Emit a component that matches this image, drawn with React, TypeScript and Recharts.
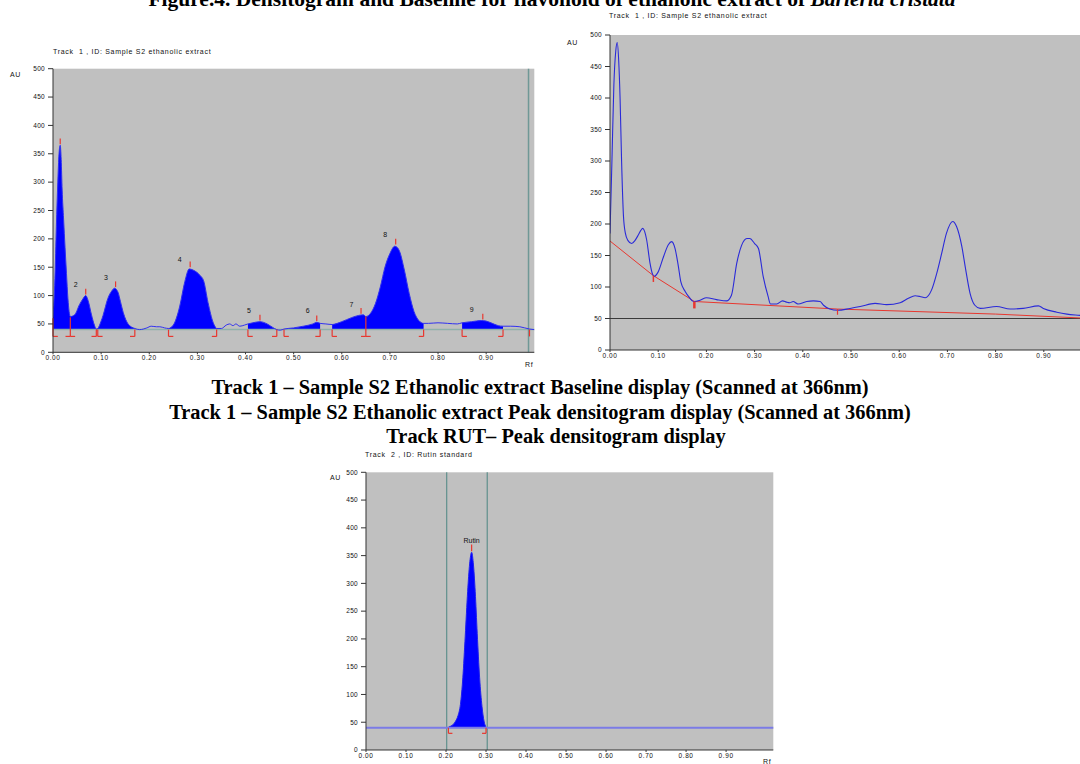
import React from "react";
import { ComposedChart, Line, Area, XAxis, YAxis, CartesianGrid, ReferenceLine, ReferenceDot } from "recharts";

// Track 1 - peak densitogram (left)
const rf1 = [0, 0.004, 0.007, 0.01, 0.0125, 0.015, 0.017, 0.019, 0.022, 0.025, 0.028, 0.031, 0.036, 0.045, 0.055, 0.062, 0.068, 0.073, 0.08, 0.086, 0.09, 0.093, 0.1, 0.104, 0.114, 0.122, 0.128, 0.135, 0.14, 0.146, 0.156, 0.17, 0.18, 0.195, 0.204, 0.215, 0.222, 0.232, 0.24, 0.25, 0.263, 0.274, 0.283, 0.291, 0.305, 0.313, 0.322, 0.333, 0.34, 0.35, 0.36, 0.367, 0.374, 0.38, 0.388, 0.398, 0.405, 0.415, 0.43, 0.445, 0.46, 0.465, 0.472, 0.48, 0.5, 0.52, 0.54, 0.548, 0.555, 0.567, 0.58, 0.6, 0.62, 0.635, 0.645, 0.65, 0.66, 0.67, 0.68, 0.69, 0.7, 0.71, 0.715, 0.72, 0.73, 0.74, 0.75, 0.76, 0.77, 0.78, 0.8, 0.82, 0.84, 0.85, 0.87, 0.89, 0.9, 0.91, 0.925, 0.935, 0.95, 0.97, 0.99, 1.0];
const au1 = [62, 130, 222, 300, 350, 365, 340, 286, 235, 185, 139, 95, 63, 66, 84, 94, 100, 91, 66, 48, 41, 42, 55, 65, 95, 108, 113, 106, 90, 70, 50, 42, 40, 43, 46, 45, 45, 43, 42, 48, 80, 125, 147, 145, 136, 126, 88, 52, 42, 42, 48, 50, 47, 50, 46, 48, 50, 52, 54, 50, 42, 40, 39, 41, 43, 46, 50, 53, 51, 50, 49, 54, 61, 65, 66, 63, 69, 86, 115, 151, 174, 187, 185, 178, 145, 104, 72, 56, 51, 51, 52, 51, 50, 52, 54, 56, 55, 52, 47, 46, 46, 45, 41, 40];
const peakStart1 = [0, 0.036, 0.093, 0.24, 0.405, 0.48, 0.58, 0.65, 0.85];
const peakEnd1 = [0.036, 0.09, 0.17, 0.34, 0.465, 0.555, 0.65, 0.77, 0.935];
const topRf1 = [0.015, 0.068, 0.13, 0.285, 0.43, 0.548, 0.64, 0.712, 0.893];
const topAu1 = [365, 100, 113, 148, 54, 53, 66, 188, 56];
const lblRf1 = [0.047, 0.11, 0.263, 0.407, 0.529, 0.62, 0.69, 0.87];
const lblAu1 = [119, 131, 164, 73, 73, 85, 207, 76];
const lblText1 = ["2", "3", "4", "5", "6", "7", "8", "9"];
const bndRf1 = [0, 0.036, 0.09, 0.093, 0.17, 0.24, 0.34, 0.405, 0.465, 0.48, 0.555, 0.58, 0.65, 0.77, 0.85, 0.935, 0.99];
const bndSide1 = ["[", "][", "]", "[", "]", "[", "]", "[", "]", "[", "]", "[", "][", "]", "[", "]", "|"];
const bndTop1 = [60, 62, 40, 40, 40, 40, 40, 40, 40, 40, 40, 40, 63, 40, 40, 40, 40];

// Track 1 - baseline display (right)
const rf2 = [0, 0.004, 0.008, 0.012, 0.015, 0.018, 0.021, 0.024, 0.028, 0.032, 0.037, 0.045, 0.052, 0.059, 0.064, 0.068, 0.072, 0.076, 0.083, 0.088, 0.092, 0.1, 0.111, 0.121, 0.128, 0.135, 0.142, 0.147, 0.156, 0.165, 0.173, 0.187, 0.2, 0.221, 0.242, 0.252, 0.263, 0.273, 0.284, 0.29, 0.3, 0.308, 0.318, 0.328, 0.333, 0.346, 0.358, 0.366, 0.373, 0.38, 0.39, 0.408, 0.422, 0.436, 0.443, 0.456, 0.472, 0.498, 0.519, 0.55, 0.574, 0.602, 0.619, 0.633, 0.643, 0.654, 0.667, 0.678, 0.688, 0.698, 0.711, 0.719, 0.73, 0.737, 0.747, 0.757, 0.768, 0.802, 0.83, 0.857, 0.889, 0.899, 0.927, 0.948, 0.975, 1.0];
const au2 = [185, 300, 420, 475, 488, 460, 397, 301, 212, 185, 174, 169, 174, 183, 190, 193, 188, 175, 138, 121, 117, 124, 148, 167, 172, 161, 132, 108, 93, 83, 77, 79, 83, 80, 78, 87, 138, 166, 177, 177, 169, 161, 116, 85, 73, 73, 78, 76, 75, 77, 73, 77, 78, 77, 71, 65, 63, 66, 69, 74, 72, 75, 82, 86, 85, 83, 95, 122, 153, 185, 204, 196, 164, 132, 90, 71, 66, 69, 65, 66, 70, 66, 60, 57, 55, 53];
const baseRf2 = [0, 0.09, 0.175, 0.472, 0.8, 1.0];
const baseAu2 = [173, 118, 77, 65, 57, 50];

// Track 2 - Rutin standard (bottom)
const rf3 = [0.206, 0.212, 0.218, 0.224, 0.23, 0.236, 0.242, 0.248, 0.254, 0.259, 0.264, 0.268, 0.273, 0.278, 0.284, 0.29, 0.295, 0.3];
const au3 = [41, 43, 46, 52, 62, 82, 130, 205, 285, 335, 356, 338, 285, 210, 130, 78, 52, 41];

const xTicks = [0, 0.1, 0.2, 0.3, 0.4, 0.5, 0.6, 0.7, 0.8, 0.9];
const yTicks = [0, 50, 100, 150, 200, 250, 300, 350, 400, 450, 500];

const GRAY = "#c0c0c0";
const RED = "#e8372f";
const AXIS = "#333";
const SANS = "'Liberation Sans', Arial, sans-serif";
const SERIF = "'Liberation Serif', 'Times New Roman', serif";
const yTick = { fontSize: 6.5, fill: "#111", fontFamily: SANS, letterSpacing: 0.3 };
const xTick = { fontSize: 6.5, fill: "#111", fontFamily: SANS, letterSpacing: 0.6 };

const data1 = rf1.map((rf, i) => ({
  rf,
  au: au1[i],
  fill: peakStart1.some((s, k) => rf >= s && rf <= peakEnd1[k]) ? au1[i] : null,
}));
const trace2 = rf2.map((rf, i) => ({ rf, au: au2[i] }));
const base2 = baseRf2.map((rf, i) => ({ rf, au: baseAu2[i] }));
const data3 = rf3.map((rf, i) => ({ rf, au: au3[i] }));

function axes(xMax: number) {
  return [
    <CartesianGrid key="g" fill={GRAY} horizontal={false} vertical={false} />,
    <XAxis key="x" type="number" dataKey="rf" domain={[0, xMax]} ticks={xTicks} height={15}
      tickFormatter={(v: number) => v.toFixed(2)} tick={xTick} tickSize={2} tickMargin={1}
      axisLine={{ stroke: AXIS }} tickLine={{ stroke: AXIS }} allowDataOverflow />,
    <YAxis key="y" type="number" domain={[0, 500]} ticks={yTicks} width={30}
      tick={yTick} tickSize={5} tickMargin={3} axisLine={{ stroke: AXIS }} tickLine={{ stroke: AXIS }} />,
  ];
}

// red peak-limit brackets and peak-top marks
function brackets(rfs: number[], sides: string[], tops: number[], low: number, foot: number) {
  const out: React.ReactNode[] = [];
  rfs.forEach((rf, i) => {
    out.push(<ReferenceLine key={"bv" + i} segment={[{ x: rf, y: low }, { x: rf, y: tops[i] }]} stroke={RED} strokeWidth={1.2} />);
    if (sides[i].includes("[")) out.push(<ReferenceLine key={"br" + i} segment={[{ x: rf, y: low }, { x: rf + foot, y: low }]} stroke={RED} strokeWidth={1.2} />);
    if (sides[i].includes("]")) out.push(<ReferenceLine key={"bl" + i} segment={[{ x: rf - foot, y: low }, { x: rf, y: low }]} stroke={RED} strokeWidth={1.2} />);
  });
  return out;
}
function peakTicks(rfs: number[], aus: number[], len: number) {
  return rfs.map((rf, i) => (
    <ReferenceLine key={"pt" + i} segment={[{ x: rf, y: aus[i] + 2 }, { x: rf, y: aus[i] + len }]} stroke={RED} strokeWidth={1.2} />
  ));
}

const abs = (left: number, top: number): React.CSSProperties => ({ position: "absolute", left, top });
const small: React.CSSProperties = { fontFamily: SANS, fontSize: 7, letterSpacing: 0.7, color: "#111", whiteSpace: "nowrap", lineHeight: "8px" };
const caption: React.CSSProperties = { fontFamily: SERIF, fontWeight: "bold", fontSize: 20.4, color: "#000", whiteSpace: "nowrap", lineHeight: "22px", position: "absolute", left: 0, width: 1080, textAlign: "center" };

export default function App() {
  return (
    <div style={{ position: "fixed", left: 0, top: 0, width: 1080, height: 764, overflow: "hidden", background: "#fff" }}>
      <div style={{ ...caption, fontSize: 21.5, top: -12, left: 12 }}>
        Figure.4. Densitogram and Baseline for flavonoid of ethanolic extract of <i>Barleria cristata</i>
      </div>

      {/* Track 1 peak densitogram */}
      <div style={{ ...small, ...abs(53, 48) }}>Track&nbsp; 1 , ID: Sample S2 ethanolic extract</div>
      <div style={{ ...small, ...abs(10, 71) }}>AU</div>
      <div style={{ ...small, ...abs(525, 361) }}>Rf</div>
      <div style={abs(0, 60)}>
        <ComposedChart width={545} height={310} data={data1} margin={{ top: 8.7, right: 10.7, bottom: 2.7, left: 23 }}>
          {axes(1)}
          <ReferenceLine y={40} stroke="#8fb1ab" strokeWidth={1.5} />
          <ReferenceLine x={0.988} stroke="#6f9896" strokeWidth={1.5} />
          <Area type="monotone" dataKey="fill" baseValue={40} stroke="none" fill="#0000ff" fillOpacity={1} connectNulls={false} isAnimationActive={false} />
          <Line type="monotone" dataKey="au" stroke="#3030f0" strokeWidth={1} dot={false} isAnimationActive={false} />
          {brackets(bndRf1, bndSide1, bndTop1, 28, 0.01)}
          {peakTicks(topRf1, topAu1, 12)}
          {lblRf1.map((rf, i) => (
            <ReferenceDot key={"l" + i} x={rf} y={lblAu1[i]} r={0} fill="none" stroke="none"
              label={{ value: lblText1[i], position: "center", fontSize: 7, fill: "#111", fontFamily: SANS }} />
          ))}
        </ComposedChart>
      </div>

      {/* Track 1 baseline display */}
      <div style={{ ...small, ...abs(609, 12) }}>Track&nbsp; 1 , ID: Sample S2 ethanolic extract</div>
      <div style={{ ...small, ...abs(567, 39) }}>AU</div>
      <div style={abs(560, 20)}>
        <ComposedChart width={540} height={348} data={trace2} margin={{ top: 15, right: 8, bottom: 3, left: 20 }}>
          {axes(1)}
          <ReferenceLine y={50} stroke="#3a3a3a" strokeWidth={1.2} />
          <Line data={base2} type="linear" dataKey="au" stroke={RED} strokeWidth={1} dot={false} isAnimationActive={false} />
          <Line type="monotone" dataKey="au" stroke="#2a2ad8" strokeWidth={1.1} dot={false} isAnimationActive={false} />
          <ReferenceLine segment={[{ x: 0.09, y: 118 }, { x: 0.09, y: 108 }]} stroke={RED} strokeWidth={1.5} />
          <ReferenceLine segment={[{ x: 0.175, y: 77 }, { x: 0.175, y: 66 }]} stroke={RED} strokeWidth={2.5} />
          <ReferenceLine segment={[{ x: 0.472, y: 65 }, { x: 0.472, y: 56 }]} stroke={RED} strokeWidth={1.2} />
        </ComposedChart>
      </div>

      <div style={{ ...caption, top: 376 }}>Track 1 – Sample S2 Ethanolic extract Baseline display (Scanned at 366nm)</div>
      <div style={{ ...caption, top: 401 }}>Track 1 – Sample S2 Ethanolic extract Peak densitogram display (Scanned at 366nm)</div>
      <div style={{ ...caption, top: 425, left: 16 }}>Track RUT– Peak densitogram display</div>

      {/* Track RUT peak densitogram */}
      <div style={{ ...small, ...abs(365, 451) }}>Track&nbsp; 2 , ID: Rutin standard</div>
      <div style={{ ...small, ...abs(330, 474) }}>AU</div>
      <div style={{ ...small, ...abs(763, 758) }}>Rf</div>
      <div style={abs(316, 460)}>
        <ComposedChart width={462.3} height={308} data={data3} margin={{ top: 12.3, right: 5, bottom: 3, left: 20 }}>
          {axes(1.018)}
          <ReferenceLine x={0.2017} stroke="#5f8f8c" strokeWidth={1.2} />
          <ReferenceLine x={0.303} stroke="#5f8f8c" strokeWidth={1.2} />
          <Area type="monotone" dataKey="au" baseValue={40} stroke="none" fill="#0000ff" fillOpacity={1} isAnimationActive={false} />
          <Line type="monotone" dataKey="au" stroke="#2020f0" strokeWidth={1} dot={false} isAnimationActive={false} />
          <ReferenceLine y={40} stroke="#7b7be6" strokeWidth={2} />
          {brackets([0.206, 0.3], ["[", "]"], [40, 40], 30, 0.01)}
          {peakTicks([0.264], [356], 14)}
          <ReferenceDot x={0.264} y={378} r={0} fill="none" stroke="none"
            label={{ value: "Rutin", position: "center", fontSize: 7, fill: "#111", fontFamily: SANS }} />
        </ComposedChart>
      </div>
    </div>
  );
}
